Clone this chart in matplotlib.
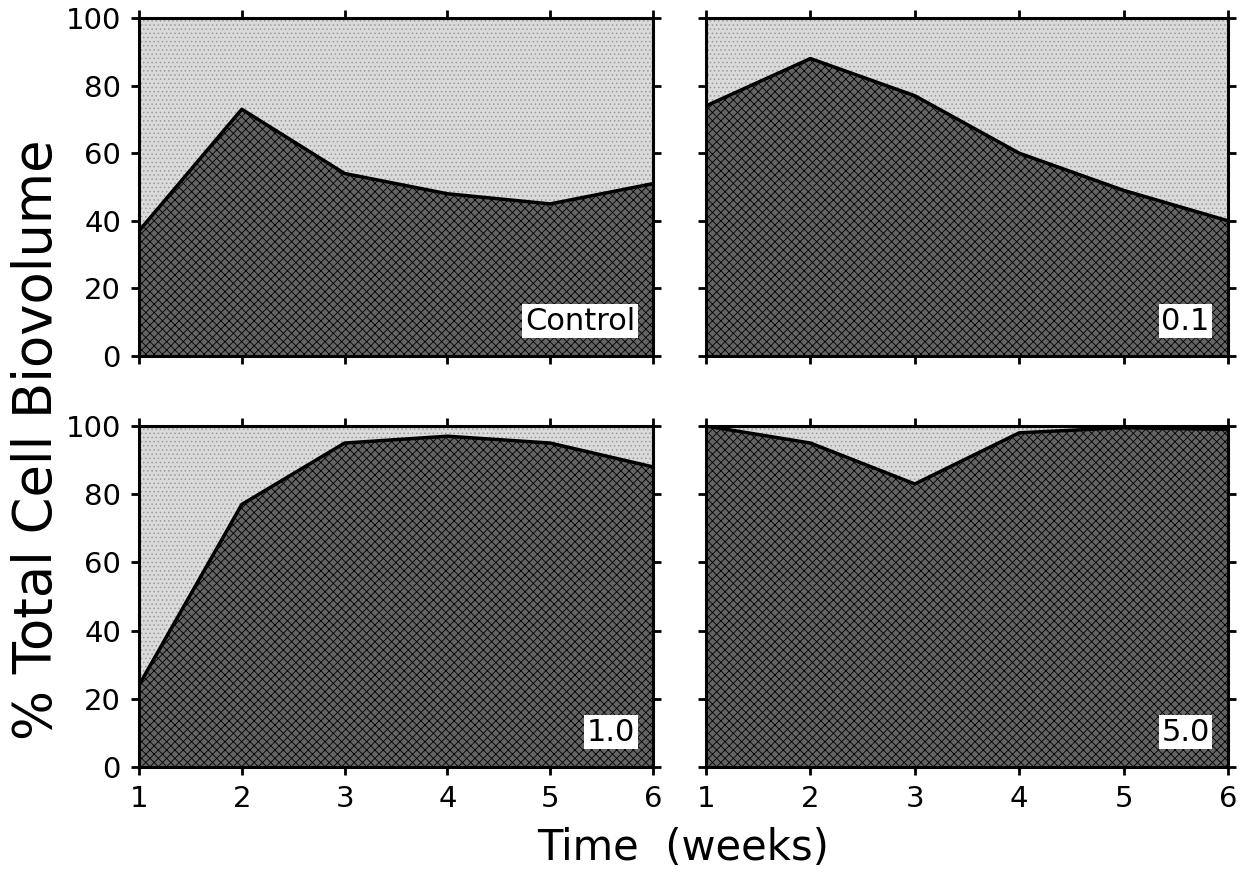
import matplotlib
matplotlib.use("Agg")
import matplotlib.pyplot as plt

# ---------------------------------------------------------------------------
# Data
# ---------------------------------------------------------------------------
weeks = [1, 2, 3, 4, 5, 6]
control = [37, 73, 54, 48, 45, 51]
dose_01 = [74, 88, 77, 60, 49, 40]
dose_10 = [24, 77, 95, 97, 95, 88]
dose_50 = [100, 95, 83, 98, 99.5, 99]
panel_labels = ["Control", "0.1", "1.0", "5.0"]
y_ticks = [0, 20, 40, 60, 80, 100]

DARK = "#646464"
LIGHT = "#dadada"

plt.rcParams["font.family"] = ["DejaVu Sans"]
plt.rcParams["hatch.linewidth"] = 0.6

fig = plt.figure(figsize=(12.45, 8.75), dpi=100)
W, H = 1245, 875
# panel boxes in pixels: left, top, right, bottom
boxes = [
    (139, 18, 653, 356),
    (706, 18, 1228, 356),
    (139, 426, 653, 767),
    (706, 426, 1228, 767),
]
series = [control, dose_01, dose_10, dose_50]

for i, ((x0, y0, x1, y1), vals, lab) in enumerate(zip(boxes, series, panel_labels)):
    ax = fig.add_axes([x0 / W, 1 - y1 / H, (x1 - x0) / W, (y1 - y0) / H])
    ax.fill_between(weeks, vals, 100, facecolor=LIGHT, edgecolor="#9a9a9a",
                    hatch="....", linewidth=0)
    ax.fill_between(weeks, 0, vals, facecolor=DARK, edgecolor="black",
                    hatch="xxxx", linewidth=0)
    ax.plot(weeks, vals, color="black", lw=2.5)
    ax.set_xlim(1, 6)
    ax.set_ylim(0, 100)
    ax.set_xticks(weeks)
    ax.set_yticks(y_ticks)
    ax.tick_params(direction="out", length=6, width=2, top=True, right=True,
                   labelsize=21, pad=7)
    for sp in ax.spines.values():
        sp.set_linewidth(2.2)
    if i % 2 == 1:
        ax.set_yticklabels([])
    if i < 2:
        ax.set_xticklabels([])
    ax.text(0.965, 0.06, lab, transform=ax.transAxes, ha="right", va="bottom",
            fontsize=22,
            bbox=dict(facecolor="white", edgecolor="none", pad=2))

fig.text(0.03, 1 - 440 / H, "% Total Cell Biovolume", rotation=90,
         ha="center", va="center", fontsize=38)
fig.text((139 + 1228) / 2 / W, 1 - 848 / H, "Time  (weeks)", ha="center",
         va="center", fontsize=30)

fig.savefig("out.png", dpi=100)
